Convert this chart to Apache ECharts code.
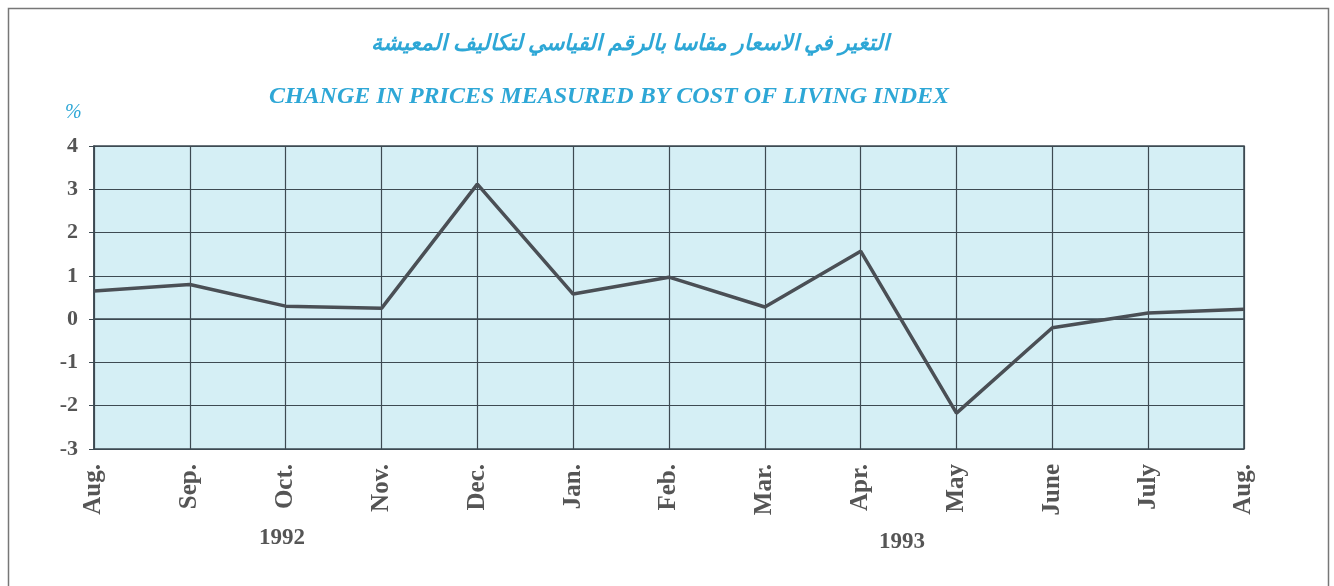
<!DOCTYPE html>
<html>
<head>
<meta charset="utf-8">
<style>
  html, body { margin: 0; padding: 0; background: #fff; }
  #chart { width: 1334px; height: 586px; }
</style>
<script src="https://cdn.jsdelivr.net/npm/echarts@6/dist/echarts.min.js"></script>
</head>
<body>
<div id="chart"></div>
<script>
const months = ['Aug.', 'Sep.', 'Oct.', 'Nov.', 'Dec.', 'Jan.', 'Feb.', 'Mar.', 'Apr.', 'May', 'June', 'July', 'Aug.']
const change = [0.65, 0.8, 0.3, 0.25, 3.12, 0.58, 0.97, 0.28, 1.57, -2.17, -0.2, 0.14, 0.23]
const yearLabels = ['1992', '1993']

const serif = '"Liberation Serif", "DejaVu Serif", serif'
const cyan = '#2ea7d6'

const myChart = echarts.init(document.getElementById('chart'))
const option = {
  backgroundColor: '#fff',
  title: [
    {
      text: 'التغير في الاسعار مقاسا بالرقم القياسي لتكاليف المعيشة',
      left: 625,
      top: 28,
      textAlign: 'center',
      textStyle: { color: cyan, fontSize: 22, fontWeight: 'bold', fontStyle: 'italic', fontFamily: '"Noto Sans", "DejaVu Sans", sans-serif' }
    },
    {
      text: 'CHANGE IN PRICES MEASURED BY COST OF LIVING INDEX',
      left: 604,
      top: 80,
      textAlign: 'center',
      textStyle: { color: cyan, fontSize: 24, fontWeight: 'bold', fontStyle: 'italic', fontFamily: serif }
    }
  ],
  graphic: [
    {
      type: 'rect',
      shape: { x: 8.5, y: 8.5, width: 1320, height: 600 },
      style: { fill: 'none', stroke: '#777', lineWidth: 1.5 },
      silent: true
    },
    {
      type: 'text', left: 65, top: 103,
      style: { text: '%', fill: cyan, fontSize: 20, fontStyle: 'italic', fontFamily: serif }
    },
    {
      type: 'text', x: 282, y: 538,
      style: { text: yearLabels[0], fill: '#555', fontSize: 23, fontWeight: 'bold', fontFamily: serif, align: 'center', verticalAlign: 'middle' }
    },
    {
      type: 'text', x: 902, y: 542,
      style: { text: yearLabels[1], fill: '#555', fontSize: 23, fontWeight: 'bold', fontFamily: serif, align: 'center', verticalAlign: 'middle' }
    }
  ],
  grid: {
    left: 94,
    right: 90,
    top: 146,
    bottom: 137,
    show: true,
    backgroundColor: '#d5eff5',
    borderColor: '#3d4a52',
    borderWidth: 1.5
  },
  xAxis: {
    type: 'category',
    boundaryGap: false,
    data: months,
    axisLine: { lineStyle: { color: '#3d4a52', width: 1.5 } },
    axisTick: { show: true, length: 5, lineStyle: { color: '#3d4a52' } },
    axisLabel: {
      rotate: 90,
      interval: 0,
      margin: 15,
      color: '#555',
      fontSize: 25,
      fontWeight: 'bold',
      fontFamily: serif
    },
    splitLine: { show: true, lineStyle: { color: '#3d4a52', width: 1.2 } }
  },
  yAxis: {
    type: 'value',
    min: -3,
    max: 4,
    interval: 1,
    axisLine: { show: true, lineStyle: { color: '#3d4a52', width: 1.5 } },
    axisTick: { show: true, length: 5, lineStyle: { color: '#3d4a52' } },
    axisLabel: {
      margin: 16,
      color: '#555',
      fontSize: 22,
      fontWeight: 'bold',
      fontFamily: serif
    },
    splitLine: { show: true, lineStyle: { color: '#3d4a52', width: 1.2 } }
  },
  series: [
    {
      type: 'line',
      data: change,
      symbol: 'none',
      lineStyle: { color: '#4a4f55', width: 3.5 },
      animation: false
    }
  ]
}
myChart.setOption(option)
</script>
</body>
</html>
